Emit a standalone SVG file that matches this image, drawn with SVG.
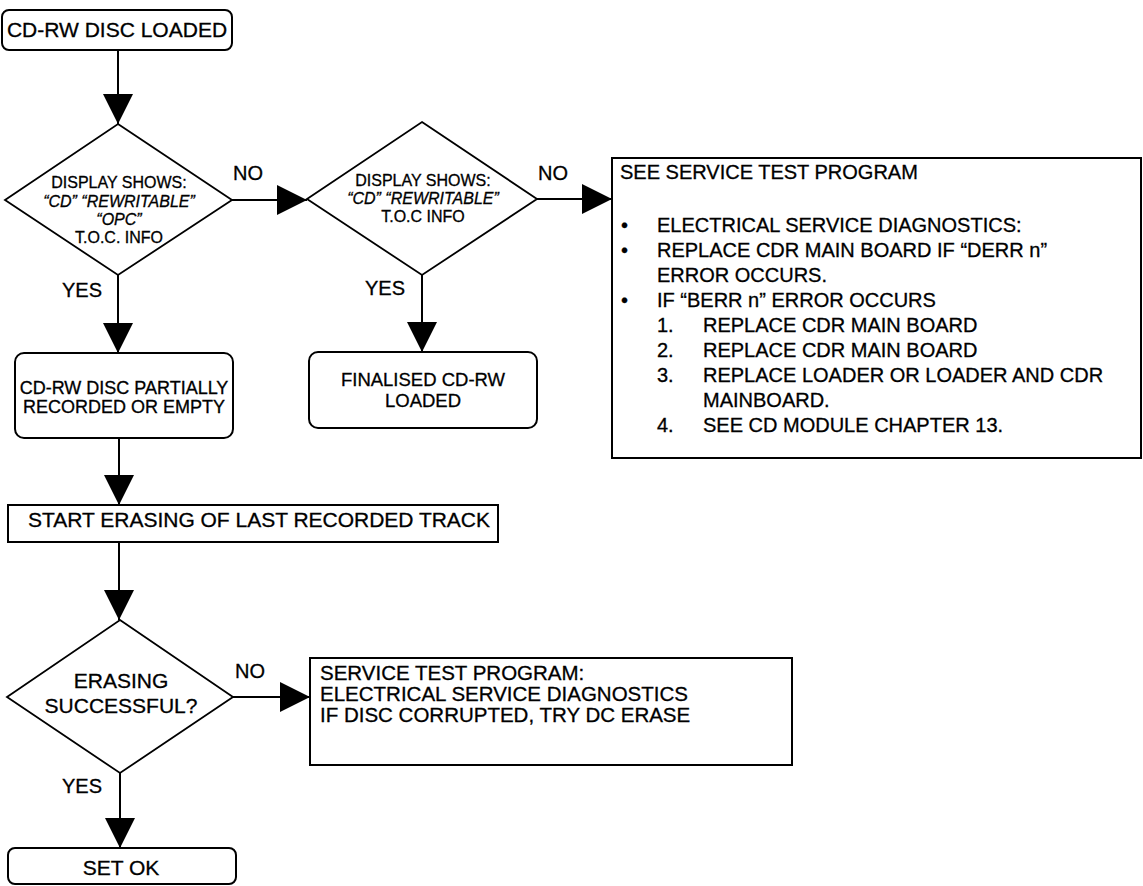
<svg xmlns="http://www.w3.org/2000/svg" width="1143" height="886" viewBox="0 0 1143 886">
  <style>
    text { font-family: "Liberation Sans", Arial, sans-serif; fill: #000; stroke: #000; stroke-width: 0.3; }
    .box { fill: #fff; stroke: #000; stroke-width: 2; }
    .dia { fill: #fff; stroke: #000; stroke-width: 1.8; }
    .wire { fill: none; stroke: #000; stroke-width: 2; }
    .lbl { font-size: 20px; }
    .dt { font-size: 16px; text-anchor: middle; }
    .it { font-style: italic; }
    .bt { font-size: 20px; }
    .bt2 { font-size: 20.5px; }
    .mid { text-anchor: middle; }
  </style>
  <defs>
    <marker id="head" markerUnits="userSpaceOnUse" markerWidth="30" markerHeight="30" refX="30" refY="15" orient="auto">
      <path d="M0,0 L30,15 L0,30 Z" fill="#000"/>
    </marker>
  </defs>
  <rect width="1143" height="886" fill="#fff"/>

  <!-- connectors -->
  <g id="connectors">
    <line class="wire" x1="118" y1="50" x2="118" y2="124" marker-end="url(#head)"/>
    <line class="wire" x1="232" y1="200" x2="307" y2="200" marker-end="url(#head)"/>
    <line class="wire" x1="118" y1="275" x2="118" y2="353" marker-end="url(#head)"/>
    <line class="wire" x1="537" y1="199" x2="612" y2="199" marker-end="url(#head)"/>
    <line class="wire" x1="422" y1="275" x2="422" y2="352" marker-end="url(#head)"/>
    <line class="wire" x1="119" y1="438" x2="119" y2="505" marker-end="url(#head)"/>
    <line class="wire" x1="119" y1="542" x2="119" y2="620" marker-end="url(#head)"/>
    <line class="wire" x1="233" y1="697" x2="310" y2="697" marker-end="url(#head)"/>
    <line class="wire" x1="120" y1="773" x2="120" y2="848" marker-end="url(#head)"/>
    <text class="lbl" x="233" y="180">NO</text>
    <text class="lbl" x="538" y="180">NO</text>
    <text class="lbl" x="62" y="297">YES</text>
    <text class="lbl" x="365" y="295">YES</text>
    <text class="lbl" x="235" y="678">NO</text>
    <text class="lbl" x="62" y="793">YES</text>
  </g>

  <g id="loaded">
    <rect class="box" x="2" y="10" width="230" height="40" rx="7"/>
    <text x="117" y="37" font-size="21" class="mid">CD-RW DISC LOADED</text>
  </g>

  <g id="check-opc">
    <polygon class="dia" points="118,124 232,200 118,275 5,200"/>
    <text class="dt" x="119" y="188">DISPLAY SHOWS:</text>
    <text class="dt it" x="119" y="207">“CD” “REWRITABLE”</text>
    <text class="dt it" x="119" y="225">“OPC”</text>
    <text class="dt" x="119" y="243">T.O.C. INFO</text>
  </g>

  <g id="check-toc">
    <polygon class="dia" points="422,122 537,199 422,275 307,199"/>
    <text class="dt" x="423" y="186">DISPLAY SHOWS:</text>
    <text class="dt it" x="423" y="204">“CD” “REWRITABLE”</text>
    <text class="dt" x="423" y="222">T.O.C INFO</text>
  </g>

  <g id="service-test">
    <rect class="box" x="612" y="158" width="529" height="300"/>
    <text class="bt" x="620" y="179">SEE SERVICE TEST PROGRAM</text>
    <text class="bt" x="621" y="232">•</text>
    <text class="bt" x="657" y="232">ELECTRICAL SERVICE DIAGNOSTICS:</text>
    <text class="bt" x="621" y="257">•</text>
    <text class="bt" x="657" y="257">REPLACE CDR MAIN BOARD IF “DERR n”</text>
    <text class="bt" x="657" y="282">ERROR OCCURS.</text>
    <text class="bt" x="621" y="307">•</text>
    <text class="bt" x="657" y="307">IF “BERR n” ERROR OCCURS</text>
    <text class="bt" x="657" y="332">1.</text>
    <text class="bt" x="703" y="332">REPLACE CDR MAIN BOARD</text>
    <text class="bt" x="657" y="357">2.</text>
    <text class="bt" x="703" y="357">REPLACE CDR MAIN BOARD</text>
    <text class="bt" x="657" y="382">3.</text>
    <text class="bt" x="703" y="382">REPLACE LOADER OR LOADER AND CDR</text>
    <text class="bt" x="703" y="407">MAINBOARD.</text>
    <text class="bt" x="657" y="432">4.</text>
    <text class="bt" x="703" y="432">SEE CD MODULE CHAPTER 13.</text>
  </g>

  <g id="partial">
    <rect class="box" x="15" y="353" width="218" height="85" rx="9"/>
    <text x="124" y="394" font-size="18" class="mid">CD-RW DISC PARTIALLY</text>
    <text x="124" y="413" font-size="18" class="mid">RECORDED OR EMPTY</text>
  </g>

  <g id="finalised">
    <rect class="box" x="309" y="352" width="228" height="76" rx="9"/>
    <text x="423" y="386" font-size="18.5" class="mid">FINALISED CD-RW</text>
    <text x="423" y="407" font-size="18.5" class="mid">LOADED</text>
  </g>

  <g id="start-erase">
    <rect class="box" x="8" y="505" width="490" height="37"/>
    <text x="28" y="527" font-size="20.5" textLength="462" lengthAdjust="spacingAndGlyphs">START ERASING OF LAST RECORDED TRACK</text>
  </g>

  <g id="erase-ok">
    <polygon class="dia" points="120,620 233,697 120,773 7,697"/>
    <text x="121" y="688" font-size="21" class="mid">ERASING</text>
    <text x="121" y="713" font-size="21" class="mid">SUCCESSFUL?</text>
  </g>

  <g id="dc-erase">
    <rect class="box" x="310" y="658" width="482" height="107"/>
    <text class="bt2" x="320" y="680">SERVICE TEST PROGRAM:</text>
    <text class="bt2" x="320" y="701">ELECTRICAL SERVICE DIAGNOSTICS</text>
    <text class="bt2" x="320" y="722">IF DISC CORRUPTED, TRY DC ERASE</text>
  </g>

  <g id="set-ok">
    <rect class="box" x="8" y="848" width="228" height="36" rx="7"/>
    <text x="121" y="875" font-size="21" class="mid">SET OK</text>
  </g>
</svg>
